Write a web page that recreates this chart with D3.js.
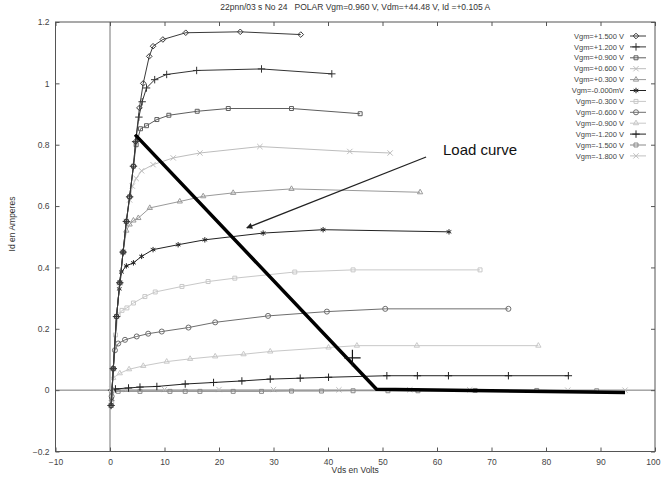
<!DOCTYPE html>
<html>
<head>
<meta charset="utf-8">
<script src="https://cdn.jsdelivr.net/npm/d3@7"></script>
<style>
  body { margin: 0; background: #fff; }
  svg { display: block; font-family: "Liberation Sans", Arial, sans-serif; }
  .tick text { fill: #444; font-size: 8.5px; }
  .tick line { stroke: #555; }
</style>
</head>
<body>
<svg id="chart" width="661" height="478"></svg>
<script>
// Id (A) vs Vds (V) curves, one per gate voltage
const vgp150 = [[0.2,-0.05],[0.6,0.07],[1.2,0.24],[1.8,0.35],[2.4,0.45],[3.0,0.55],[3.6,0.63],[4.3,0.73],[4.7,0.81],[5.4,0.92],[6.1,1.0],[7.2,1.088],[7.9,1.121],[9.7,1.143],[13.9,1.165],[23.9,1.168],[35,1.159]];
const vgp120 = [[0.2,-0.05],[0.6,0.07],[1.2,0.24],[1.8,0.35],[2.4,0.45],[3.0,0.55],[3.6,0.63],[4.3,0.73],[4.7,0.81],[5.3,0.89],[5.9,0.94],[6.7,0.985],[8.2,1.012],[10.4,1.029],[15.9,1.042],[27.8,1.047],[40.7,1.031]];
const vgp090 = [[0.2,-0.05],[0.6,0.07],[1.2,0.24],[1.8,0.35],[2.4,0.45],[3.0,0.55],[3.6,0.63],[4.3,0.73],[4.8,0.80],[5.6,0.852],[6.7,0.862],[8.6,0.882],[10.8,0.896],[16.0,0.909],[21.7,0.918],[33.3,0.918],[45.9,0.901]];
const vgp060 = [[0.2,-0.05],[0.6,0.07],[1.2,0.24],[1.8,0.35],[2.4,0.45],[3.0,0.55],[3.6,0.62],[4.1,0.665],[4.8,0.69],[5.8,0.715],[7.9,0.735],[11.6,0.757],[16.5,0.773],[27.5,0.794],[44,0.778],[51.4,0.773]];
const vgp030 = [[0.3,-0.03],[0.6,0.07],[1.2,0.24],[1.8,0.35],[2.4,0.45],[3.0,0.52],[3.6,0.54],[4.3,0.553],[5.2,0.561],[7.3,0.594],[12.8,0.615],[17.1,0.632],[22.6,0.643],[33.3,0.656],[56.9,0.645]];
const vg000 = [[0.3,-0.03],[0.6,0.07],[1.2,0.24],[1.7,0.33],[2.1,0.385],[3.0,0.405],[4.3,0.415],[5.8,0.436],[7.9,0.458],[12.5,0.474],[17.4,0.49],[28.1,0.512],[39.1,0.523],[62.2,0.516]];
const vgm030 = [[0.3,-0.04],[0.6,0.07],[1.0,0.18],[1.5,0.245],[2.2,0.26],[3.1,0.268],[4.3,0.284],[6.4,0.305],[8.3,0.32],[13.2,0.338],[18.0,0.354],[22.9,0.365],[33.9,0.385],[44.6,0.392],[67.9,0.392]];
const vgm060 = [[0.3,-0.02],[0.6,0.07],[0.9,0.13],[1.5,0.152],[2.75,0.164],[4.9,0.175],[7.0,0.184],[9.5,0.191],[14.4,0.204],[19.3,0.221],[29.0,0.242],[39.8,0.256],[50.5,0.265],[73.1,0.265]];
const vgm090 = [[0.3,0.0],[0.6,0.04],[1.8,0.055],[3.5,0.068],[6.1,0.079],[10.4,0.093],[14.7,0.102],[19.3,0.11],[24.5,0.117],[29.4,0.126],[40.1,0.139],[45.3,0.145],[56.3,0.145],[78.6,0.145]];
const vgm120 = [[0.3,0.0],[1.0,0.004],[3.4,0.007],[5.5,0.01],[8.6,0.012],[13.8,0.02],[19,0.025],[24.2,0.03],[29.4,0.036],[34.9,0.039],[40.1,0.042],[50.8,0.047],[56.4,0.047],[62.1,0.047],[73.1,0.047],[84.1,0.047]];
const vgm150 = [[0.3,-0.004],[1.5,-0.004],[5.5,-0.004],[11,-0.004],[13.8,-0.004],[16.5,-0.004],[22.6,-0.004],[27.8,-0.004],[33.3,-0.003],[38.8,-0.003],[44.6,-0.002],[51,-0.002],[56.5,-0.002],[67,-0.001],[78.3,-0.001],[89.3,-0.002]];
const vgm180 = [[0.3,0.002],[3,0.002],[10,0.002],[20,0.002],[30,0.002],[42,0.001],[55,0.001],[66,0.001],[84,0.0],[94.5,0.0]];

const seriesLabels = ["Vgm=+1.500 V", "Vgm=+1.200 V", "Vgm=+0.900 V", "Vgm=+0.600 V", "Vgm=+0.300 V", "Vgm=-0.000mV",
                      "Vgm=-0.300 V", "Vgm=-0.600 V", "Vgm=-0.900 V", "Vgm=-1.200 V", "Vgm=-1.500 V", "Vgm=-1.800 V"];
const seriesData = [vgp150, vgp120, vgp090, vgp060, vgp030, vg000, vgm030, vgm060, vgm090, vgm120, vgm150, vgm180];

// load line and operating point
const loadCurve = [[4.6,0.833],[48.9,0.003],[94.5,-0.008]];
const operatingPoint = [44.48, 0.105];
const arrowFrom = [58.0, 0.760];
const arrowTo = [25.1, 0.529];

const xTicks = [-10, 0, 10, 20, 30, 40, 50, 60, 70, 80, 90, 100];
const yTicks = [-0.2, 0, 0.2, 0.4, 0.6, 0.8, 1, 1.2];

const titleText = "22pnn/03 s No 24   POLAR Vgm=0.960 V, Vdm=+44.48 V, Id =+0.105 A";

const styles = [
    { color: "#3a3a3a", symbol: d3.symbolDiamond2 },
    { color: "#333333", symbol: d3.symbolPlus },
    { color: "#5e5e5e", symbol: d3.symbolSquare2 },
    { color: "#bdbdbd", symbol: d3.symbolX },
    { color: "#9a9a9a", symbol: d3.symbolTriangle2 },
    { color: "#222222", symbol: d3.symbolAsterisk },
    { color: "#c8c8c8", symbol: d3.symbolSquare2 },
    { color: "#6e6e6e", symbol: d3.symbolCircle },
    { color: "#c8c8c8", symbol: d3.symbolTriangle2 },
    { color: "#222222", symbol: d3.symbolPlus },
    { color: "#8a8a8a", symbol: d3.symbolSquare2 },
    { color: "#c0c0c0", symbol: d3.symbolX }
];

const svg = d3.select("#chart");

const xScale = d3.scaleLinear().domain([-10, 100]).range([55.5, 655]);
const yScale = d3.scaleLinear().domain([-0.2, 1.2]).range([451.5, 22]);

// title
svg.append("text")
    .attr("x", (xScale(-10) + xScale(100)) / 2)
    .attr("y", 10)
    .attr("text-anchor", "middle")
    .style("font-size", "8.5px")
    .style("white-space", "pre")
    .attr("fill", "#333")
    .text(titleText);

// zero axes
svg.append("line")
    .attr("x1", xScale(0)).attr("x2", xScale(0))
    .attr("y1", yScale(1.2)).attr("y2", yScale(-0.2))
    .attr("stroke", "#777").attr("stroke-width", 1);
svg.append("line")
    .attr("x1", xScale(-10)).attr("x2", xScale(100))
    .attr("y1", yScale(0)).attr("y2", yScale(0))
    .attr("stroke", "#777").attr("stroke-width", 1);

// axes, ticks drawn inside like gnuplot
svg.append("g")
    .attr("transform", `translate(0,${yScale(-0.2)})`)
    .call(d3.axisBottom(xScale).tickValues(xTicks).tickSize(-4).tickPadding(7).tickFormat(d3.format("d")))
    .call(g => g.select(".domain").remove())
    .call(g => g.selectAll(".tick text").filter(d => d === 100)
        .attr("text-anchor", "end").attr("x", 660 - xScale(100)));
svg.append("g")
    .attr("transform", `translate(0,${yScale(1.2)})`)
    .call(d3.axisTop(xScale).tickValues(xTicks).tickSize(-4).tickFormat(""))
    .call(g => g.select(".domain").remove());
svg.append("g")
    .attr("transform", `translate(${xScale(-10)},0)`)
    .call(d3.axisLeft(yScale).tickValues(yTicks).tickSize(-4).tickPadding(6).tickFormat(d => d3.format("")(+d.toFixed(1))))
    .call(g => g.select(".domain").remove());
svg.append("g")
    .attr("transform", `translate(${xScale(100)},0)`)
    .call(d3.axisRight(yScale).tickValues(yTicks).tickSize(-4).tickFormat(""))
    .call(g => g.select(".domain").remove());

// border
svg.append("rect")
    .attr("x", xScale(-10)).attr("y", yScale(1.2))
    .attr("width", xScale(100) - xScale(-10))
    .attr("height", yScale(-0.2) - yScale(1.2))
    .attr("fill", "none").attr("stroke", "#555").attr("stroke-width", 1);

// axis titles
svg.append("text")
    .attr("x", (xScale(-10) + xScale(100)) / 2)
    .attr("y", 473)
    .attr("text-anchor", "middle")
    .style("font-size", "8.5px")
    .attr("fill", "#333")
    .text("Vds en Volts");
svg.append("text")
    .attr("transform", `translate(15,224) rotate(-90)`)
    .attr("text-anchor", "middle")
    .style("font-size", "8.5px")
    .attr("fill", "#333")
    .text("Id en Amperes");

const line = d3.line()
    .x(d => xScale(d[0]))
    .y(d => yScale(d[1]));

// draw curves bottom-up so darker ones sit on top
const order = d3.range(seriesData.length).reverse();
order.forEach(function(i) {
    const st = styles[i];
    const g = svg.append("g");
    g.append("path")
        .datum(seriesData[i])
        .attr("d", line)
        .attr("fill", "none")
        .attr("stroke", st.color)
        .attr("stroke-width", 1);
    g.selectAll("path.pt")
        .data(seriesData[i])
        .enter()
        .append("path")
        .attr("class", "pt")
        .attr("transform", d => `translate(${xScale(d[0])},${yScale(d[1])})`)
        .attr("d", d3.symbol().type(st.symbol).size(20))
        .attr("fill", "none")
        .attr("stroke", st.color)
        .attr("stroke-width", 1);
});

// legend
const legend = svg.append("g");
seriesLabels.forEach(function(label, i) {
    const yy = 36 + i * 10.9;
    legend.append("text")
        .attr("x", 624)
        .attr("y", yy)
        .attr("dy", "0.35em")
        .attr("text-anchor", "end")
        .style("font-size", "7.5px")
        .attr("fill", "#444")
        .text(label);
    legend.append("line")
        .attr("x1", 630).attr("x2", 646)
        .attr("y1", yy).attr("y2", yy)
        .attr("stroke", styles[i].color).attr("stroke-width", 1);
    legend.append("path")
        .attr("transform", `translate(636,${yy})`)
        .attr("d", d3.symbol().type(styles[i].symbol).size(20))
        .attr("fill", "none")
        .attr("stroke", styles[i].color)
        .attr("stroke-width", 1);
});

// load curve
svg.append("path")
    .datum(loadCurve)
    .attr("d", line)
    .attr("fill", "none")
    .attr("stroke", "#000")
    .attr("stroke-width", 3.5)
    .attr("stroke-linejoin", "miter");

svg.append("path")
    .attr("transform", `translate(${xScale(operatingPoint[0])},${yScale(operatingPoint[1])})`)
    .attr("d", d3.symbol().type(d3.symbolPlus).size(90))
    .attr("fill", "none")
    .attr("stroke", "#111")
    .attr("stroke-width", 1.2);

// annotation arrow
svg.append("defs").append("marker")
    .attr("id", "arrowhead")
    .attr("viewBox", "0 0 10 10")
    .attr("refX", 9).attr("refY", 5)
    .attr("markerWidth", 7).attr("markerHeight", 6)
    .attr("orient", "auto")
    .attr("markerUnits", "userSpaceOnUse")
    .append("path")
    .attr("d", "M0,0 L10,5 L0,10 z")
    .attr("fill", "#222");

svg.append("line")
    .attr("x1", xScale(arrowFrom[0])).attr("y1", yScale(arrowFrom[1]))
    .attr("x2", xScale(arrowTo[0])).attr("y2", yScale(arrowTo[1]))
    .attr("stroke", "#222")
    .attr("stroke-width", 1.3)
    .attr("marker-end", "url(#arrowhead)");

svg.append("text")
    .attr("x", xScale(61.1))
    .attr("y", yScale(0.768))
    .style("font-size", "15px")
    .attr("fill", "#111")
    .text("Load curve");
</script>
</body>
</html>
